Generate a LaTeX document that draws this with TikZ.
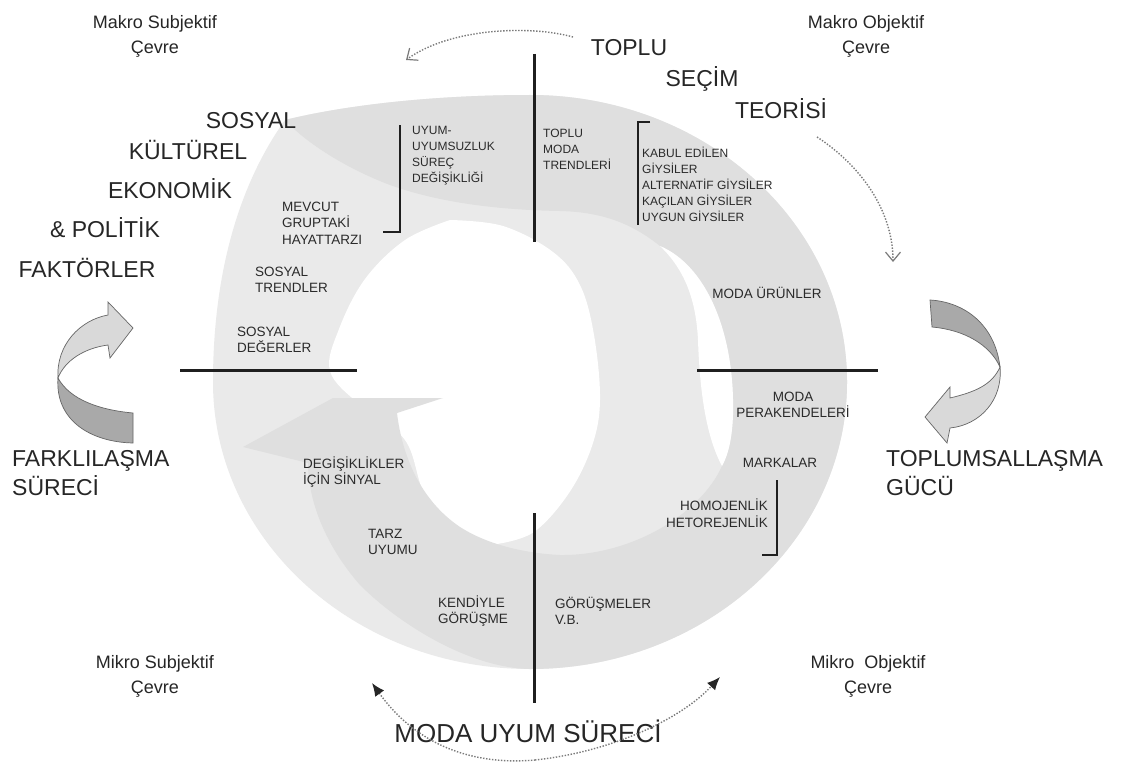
\documentclass[tikz,border=0pt]{standalone}
\usepackage{fontspec}
\setmainfont{Liberation Sans}
\usetikzlibrary{arrows.meta}
\definecolor{ringA}{HTML}{EAEAEA}
\definecolor{ringB}{HTML}{DFDFDF}
\definecolor{txt}{HTML}{262626}
\definecolor{stxt}{HTML}{2A2A2A}
\definecolor{dotc}{HTML}{7A7A7A}
\definecolor{ribL}{HTML}{D9D9D9}
\definecolor{ribD}{HTML}{A9A9A9}
\begin{document}
\begin{tikzpicture}[x=1pt,y=-1pt,
  big/.style={font=\fontsize{23}{29}\selectfont, text=txt, inner sep=0pt, align=left},
  envlabel/.style={font=\fontsize{18}{25}\selectfont, text=txt, inner sep=0pt, align=center},
  smalltop/.style={font=\fontsize{12}{16}\selectfont, text=stxt, inner sep=0pt, align=left},
  smallring/.style={font=\fontsize{13.5}{16.5}\selectfont, text=stxt, inner sep=0pt},
  axisline/.style={line width=3pt, draw=black!88},
  bracketline/.style={line width=2.6pt, draw=black!88},
  dotline/.style={draw=dotc, line width=1.4pt, dash pattern=on 1.4pt off 1.6pt},
  vhead/.style={-{Straight Barb[length=9pt,width=15pt,line width=1.2pt]}},
  ribbon/.style={draw=black!60, line width=0.7pt},
]
\useasboundingbox (0,0) rectangle (1121,765);
\fill[white] (0,0) rectangle (1121,765);

% ---------- ring ----------
\fill[ringA] (285,120) .. controls (350,104) and (440,95) .. (530,95)
  arc[start angle=270, end angle=540, x radius=317, y radius=287]
  .. controls (213,300) and (228,200) .. (285,120) -- cycle;
\fill[white] plot[smooth, tension=0.6] coordinates {(450,220) (503,226) (553,252) (580,285) (594,335) (600,400) (592,446) (569,493) (534,532) (497,544)}
  -- plot[smooth, tension=0.6] coordinates {(497,544) (458,530) (425,495) (405,440) (360,405) (330,371) (339,329) (365,279) (405,240) (450,220)} -- cycle;
\fill[ringB] (285,120) .. controls (350,104) and (440,95) .. (530,95)
  arc[start angle=270, end angle=450, x radius=317, y radius=287]
  .. controls (470,668) and (400,625) .. (360,585)
  .. controls (325,545) and (308,500) .. (308,463)
  -- (243,447) -- (333,398) -- (443,398) -- (397,413)
  .. controls (402,455) and (420,500) .. (460,527)
  .. controls (485,543) and (520,553) .. (560,555)
  .. controls (630,556) and (700,515) .. (722,466)
  .. controls (728,455) and (732,440) .. (733,415)
  .. controls (735,330) and (705,265) .. (660,246)
  .. controls (630,222) and (600,212) .. (560,211)
  .. controls (500,210) and (440,203) .. (390,185)
  .. controls (345,168) and (305,142) .. (285,120) -- cycle;
\fill[white] (660,246) .. controls (705,265) and (735,330) .. (733,415)
  .. controls (732,440) and (728,455) .. (722,466)
  .. controls (708,440) and (700,400) .. (698,340)
  .. controls (696,300) and (685,270) .. (660,246) -- cycle;

% ---------- axes and brackets ----------
\coordinate (vtopA) at (534,54);  \coordinate (vtopB) at (534,242);
\coordinate (vbotA) at (534,513); \coordinate (vbotB) at (534,703);
\coordinate (hlefA) at (180,370); \coordinate (hlefB) at (357,370);
\coordinate (hrigA) at (697,370); \coordinate (hrigB) at (878,370);
\draw[axisline] (vtopA) -- (vtopB);
\draw[axisline] (vbotA) -- (vbotB);
\draw[axisline] (hlefA) -- (hlefB);
\draw[axisline] (hrigA) -- (hrigB);
\coordinate (b1a) at (383,232); \coordinate (b1b) at (400,232); \coordinate (b1c) at (400,125);
\coordinate (b2a) at (650,122); \coordinate (b2b) at (638,122); \coordinate (b2c) at (638,225);
\coordinate (b3a) at (777,480); \coordinate (b3b) at (777,555); \coordinate (b3c) at (762,555);
\draw[bracketline] (b1a) -- (b1b) -- (b1c);
\draw[bracketline] (b2a) -- (b2b) -- (b2c);
\draw[bracketline] (b3a) -- (b3b) -- (b3c);

% ---------- ribbon arrows ----------
\filldraw[ribbon, fill=ribL] (58,378) .. controls (56,345) and (80,320) .. (108,315)
  -- (108,302) -- (133,328) -- (110,358) -- (108,345)
  .. controls (85,348) and (65,360) .. (58,378) -- cycle;
\filldraw[ribbon, fill=ribD] (58,378) .. controls (55,420) and (90,442) .. (133,443)
  -- (133,413) .. controls (100,410) and (70,400) .. (58,378) -- cycle;
\filldraw[ribbon, fill=ribD] (930,300) .. controls (965,302) and (995,325) .. (1000,367)
  .. controls (990,345) and (965,330) .. (932,327) -- cycle;
\filldraw[ribbon, fill=ribL] (1000,367) .. controls (1003,400) and (980,425) .. (950,428)
  -- (947,443) -- (925,417) -- (950,387) -- (950,398)
  .. controls (975,392) and (992,385) .. (1000,367) -- cycle;

% ---------- big labels ----------
\node[envlabel] (makrosub) at (155,36) {Makro Subjektif\\Çevre};
\node[envlabel] (makroobj) at (866,36) {Makro Objektif\\Çevre};
\node[envlabel] (mikrosub) at (155,676) {Mikro Subjektif\\Çevre};
\node[envlabel] (mikroobj) at (868,676) {Mikro~ Objektif\\Çevre};
\node[big] (toplu) at (629,48) {TOPLU};
\node[big] (secim) at (702,79) {SEÇİM};
\node[big] (teorisi) at (781,109) {TEORİSİ};
\node[big] (sosyal) at (251,121) {SOSYAL};
\node[big] (kulturel) at (188,150) {KÜLTÜREL};
\node[big] (ekonomik) at (170,189) {EKONOMİK};
\node[big] (politik) at (105,228) {\& POLİTİK};
\node[big] (faktorler) at (87,268) {FAKTÖRLER};
\node[big, anchor=north west] (farkli) at (12,450) {FARKLILAŞMA\\SÜRECİ};
\node[big, anchor=north west] (toplum) at (886,450) {TOPLUMSALLAŞMA\\GÜCÜ};
\node[font=\fontsize{26}{30}\selectfont, text=txt, inner sep=0pt] (modauyum) at (528,731) {MODA UYUM SÜRECİ};

% ---------- small labels ----------
\node[smalltop, anchor=west] (uyum) at (412,156) {UYUM-\\UYUMSUZLUK\\SÜREÇ\\DEĞİŞİKLİĞİ};
\node[smalltop, anchor=west] (toplumoda) at (543,149) {TOPLU\\MODA\\TRENDLERİ};
\node[smalltop, anchor=west] (kabul) at (642,184) {KABUL EDİLEN\\GİYSİLER\\ALTERNATİF GİYSİLER\\KAÇILAN GİYSİLER\\UYGUN GİYSİLER};
\node[smallring, align=left, anchor=west] (mevcut) at (282,223) {MEVCUT\\GRUPTAKİ\\HAYATTARZI};
\node[smallring, align=left, anchor=west] (sostrend) at (255,280) {SOSYAL\\TRENDLER};
\node[smallring, align=left, anchor=west] (sosdeger) at (237,340) {SOSYAL\\DEĞERLER};
\node[smallring] (urunler) at (767,293) {MODA ÜRÜNLER};
\node[smallring, align=center] (perakende) at (793,405) {MODA\\PERAKENDELERİ};
\node[smallring] (markalar) at (780,463) {MARKALAR};
\node[smallring, align=right, anchor=east] (homojen) at (768,513) {HOMOJENLİK\\HETOREJENLİK};
\node[smallring, align=left, anchor=west] (sinyal) at (303,472) {DEGİŞİKLİKLER\\İÇİN SİNYAL};
\node[smallring, align=left, anchor=west] (tarz) at (368,542) {TARZ\\UYUMU};
\node[smallring, align=left, anchor=west] (kendi) at (438,611) {KENDİYLE\\GÖRÜŞME};
\node[smallring, align=left, anchor=west] (gorusme) at (555,611) {GÖRÜŞMELER\\V.B.};

% ---------- dotted arrows ----------
\coordinate (topS) at (573,37);  \coordinate (topE) at (406,60);
\coordinate (rgtS) at (817,137); \coordinate (rgtE) at (893,262);
\coordinate (botL) at (372,683); \coordinate (botM) at (535,760); \coordinate (botR) at (720,677);
\draw[dotline, vhead] (topS) .. controls (530,25) and (450,28) .. (topE);
\draw[dotline, vhead] (rgtS) .. controls (860,165) and (893,210) .. (rgtE);
\draw[dotline, {Latex[length=13pt,width=11pt,color=black!85]}-] (botL) .. controls (420,750) and (480,765) .. (botM);
\draw[dotline, -{Latex[length=13pt,width=11pt,color=black!85]}] (botM) .. controls (610,752) and (680,720) .. (botR);
\end{tikzpicture}
\end{document}
